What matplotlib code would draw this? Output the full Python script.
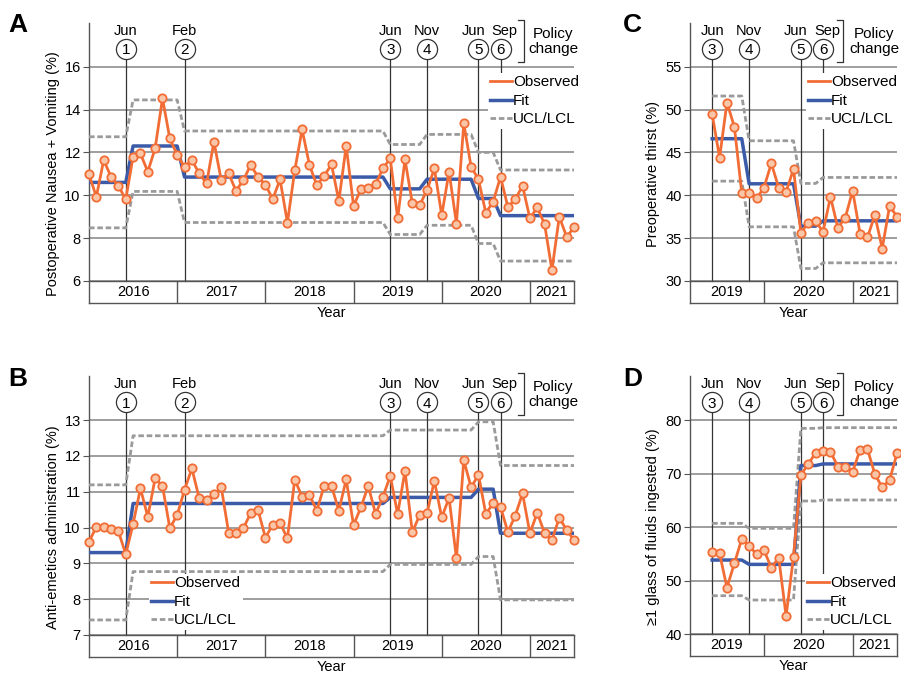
import matplotlib
matplotlib.use('Agg')
import matplotlib.pyplot as plt
import matplotlib.transforms as mtransforms
from matplotlib.lines import Line2D

plt.rcParams['font.family'] = ['Liberation Sans', 'DejaVu Sans']

W, H = 901, 674

# ---------------- data (month index: Jan 2016 = 0) ----------------
months_ab = list(range(0, 67))      # Jan 2016 .. Jul 2021
months_cd = list(range(41, 67))     # Jun 2019 .. Jul 2021

years = ['2016', '2017', '2018', '2019', '2020', '2021']
year_starts = [0, 12, 24, 36, 48, 60]

policy_nums = ['1', '2', '3', '4', '5', '6']
policy_months = [5, 13, 41, 46, 53, 56]
policy_labels = ['Jun', 'Feb', 'Jun', 'Nov', 'Jun', 'Sep']

ponv_obs = [10.97, 9.93, 11.64, 10.86, 10.44, 9.81, 11.8, 11.95, 11.1, 12.19, 14.52, 12.65,
            11.88, 11.33, 11.64, 11.02, 10.55, 12.5, 10.7, 11.02, 10.21, 10.7, 11.41, 10.86,
            10.5, 9.82, 10.74, 8.72, 11.16, 13.07, 11.41, 10.47, 10.9, 11.44, 9.74, 12.3,
            9.51, 10.27, 10.35, 10.52, 11.25, 11.72, 8.92, 11.67, 9.62, 9.54, 10.24, 11.25,
            9.07, 11.1, 8.68, 13.35, 11.33, 10.74, 9.18, 9.7, 10.86, 9.46, 9.81, 10.44,
            8.92, 9.43, 8.65, 6.51, 9.0, 8.06, 8.5]
ponv_fit = [10.6] * 6 + [12.3] * 7 + [10.85] * 28 + [10.3] * 5 + [10.75] * 7 + [9.85] * 3 + [9.05] * 11
ponv_ucl = [12.73] * 6 + [14.45] * 7 + [13.0] * 28 + [12.37] * 5 + [12.84] * 7 + [12.0] * 3 + [11.18] * 11
ponv_lcl = [8.48] * 6 + [10.18] * 7 + [8.73] * 28 + [8.17] * 5 + [8.6] * 7 + [7.75] * 3 + [6.93] * 11

anti_obs = [9.6, 10.02, 10.02, 9.95, 9.9, 9.25, 10.1, 11.09, 10.3, 11.37, 11.16, 9.98,
            10.35, 11.05, 11.65, 10.81, 10.77, 10.93, 11.12, 9.86, 9.86, 9.98, 10.4, 10.49,
            9.72, 10.07, 10.12, 9.7, 11.33, 10.86, 10.91, 10.47, 11.16, 11.16, 10.47, 11.34,
            10.07, 10.56, 11.16, 10.38, 10.86, 11.44, 10.37, 11.58, 9.87, 10.35, 10.4, 11.3,
            10.28, 10.83, 9.14, 11.88, 11.12, 11.47, 10.38, 10.67, 10.58, 9.87, 10.33, 10.95,
            9.84, 10.41, 9.84, 9.65, 10.27, 9.93, 9.65]
anti_fit = [9.3] * 6 + [10.67] * 35 + [10.84] * 12 + [11.07] * 3 + [9.84] * 11
anti_ucl = [11.19] * 6 + [12.56] * 35 + [12.72] * 12 + [12.95] * 3 + [11.73] * 11
anti_lcl = [7.42] * 6 + [8.77] * 35 + [8.97] * 12 + [9.19] * 3 + [7.98] * 11

thirst_obs = [49.47, 44.38, 50.8, 48.0, 40.29, 40.29, 39.63, 40.88, 43.72, 40.88, 40.41, 43.05,
              35.62, 36.79, 36.98, 35.74, 39.82, 36.2, 37.37, 40.53, 35.54, 35.08, 37.68, 33.79,
              38.77, 37.49]
thirst_fit = [46.6] * 5 + [41.34] * 7 + [36.4] * 3 + [37.02] * 11
thirst_ucl = [51.58] * 5 + [46.36] * 7 + [41.38] * 3 + [42.08] * 11
thirst_lcl = [41.65] * 5 + [36.32] * 7 + [31.46] * 3 + [32.12] * 11

fluid_obs = [55.42, 55.1, 48.7, 53.24, 57.78, 56.54, 54.92, 55.73, 52.43, 54.3, 43.41, 54.49,
             69.73, 71.79, 73.9, 74.21, 74.09, 71.29, 71.29, 70.35, 74.4, 74.59, 69.92, 67.43,
             68.8, 73.78]
fluid_fit = [53.86] * 5 + [53.05] * 7 + [71.5] * 3 + [71.8] * 11
fluid_ucl = [60.71] * 5 + [59.78] * 7 + [78.44] * 3 + [78.57] * 11
fluid_lcl = [47.2] * 5 + [46.4] * 7 + [64.88] * 3 + [65.07] * 11

# ---------------- style ----------------
C_OBS = '#F26D35'
C_OBS_FACE = '#F9C6A8'
C_FIT = '#3B5BA9'
C_LIM = '#9A9A9A'
C_GRID = '#8E8E8E'
C_LINE = '#333333'
C_SPINE = '#555555'

# horizontal nudges (px) of the month labels so that adjacent ones do not collide
label_nudge = [0, 0, 0, 0, -5, 4]

fig = plt.figure(figsize=(W / 100, H / 100), dpi=100)


def px_axes(x0, y0, x1, y1):
    return fig.add_axes([x0 / W, 1 - y1 / H, (x1 - x0) / W, (y1 - y0) / H])


def fig_line(xs, ys, **kw):
    fig.add_artist(Line2D([x / W for x in xs], [1 - y / H for y in ys],
                          transform=fig.transFigure, **kw))


def panel(letter, letter_xy, x0, x1, gtop, gbot, stop, xlim, ymin, ymax, yticks,
          months, obs, fit, ucl, lcl, ylabel, ylabel_x, pol_idx, bracket_x, text_x, leg_xy):
    ax = px_axes(x0, stop, x1, gbot)
    scale = (ymax - ymin) / (gbot - gtop)
    ax.set_ylim(ymin, ymax + (gtop - stop) * scale)
    ax.set_xlim(*xlim)
    for s in ['top', 'right', 'bottom']:
        ax.spines[s].set_visible(False)
    ax.spines['left'].set_color(C_SPINE)
    ax.spines['left'].set_linewidth(1.0)
    ax.set_yticks(yticks)
    ax.tick_params(axis='y', length=4, color=C_SPINE, labelsize=10.5, pad=2)
    ax.set_xticks([])
    for t in yticks:
        ax.axhline(t, color=C_GRID, lw=1.2, zorder=1)

    def frac(py):
        return (gbot - py) / (gbot - stop)

    trans = mtransforms.blended_transform_factory(ax.transData, ax.transAxes)
    circ_y = gtop - 17.7
    lab_y = gtop - 37.5
    for i in pol_idx:
        m = policy_months[i]
        ax.plot([m, m], [frac(circ_y + 10), 0], transform=trans, color=C_LINE, lw=0.9,
                zorder=2, clip_on=False)
        ax.plot([m], [frac(circ_y)], marker='o', ms=14.5, mfc='white', mec=C_LINE, mew=0.9,
                transform=trans, clip_on=False, zorder=6)
        ax.text(m, frac(circ_y), policy_nums[i], transform=trans, ha='center',
                va='center_baseline', fontsize=11, zorder=7)
        off = mtransforms.ScaledTranslation(label_nudge[i] / 100, 0, fig.dpi_scale_trans)
        ax.text(m, frac(lab_y), policy_labels[i], transform=trans + off, ha='center',
                va='center_baseline', fontsize=10.5, zorder=7)

    # bracket and "Policy change"
    by0, by1 = gtop - 46.7, gtop - 4.7
    fig_line([bracket_x - 6, bracket_x, bracket_x, bracket_x - 6], [by0, by0, by1, by1],
             color=C_LINE, lw=0.9)
    fig.text(text_x / W, 1 - (gtop - 25.5) / H, 'Policy\nchange', ha='center', va='center',
             fontsize=11, linespacing=1.1)

    ax.plot(months, ucl, color=C_LIM, lw=2, ls=(0, (2, 1)), zorder=3)
    ax.plot(months, lcl, color=C_LIM, lw=2, ls=(0, (2, 1)), zorder=3)
    ax.plot(months, fit, color=C_FIT, lw=2.5, zorder=4)
    ax.plot(months, obs, color=C_OBS, lw=2, marker='o', ms=6, mfc=C_OBS_FACE, mec=C_OBS,
            mew=1.3, zorder=5, clip_on=False)

    handles = [Line2D([], [], color=C_OBS, lw=2),
               Line2D([], [], color=C_FIT, lw=2.5),
               Line2D([], [], color=C_LIM, lw=2, ls=(0, (2, 1)))]
    lx = (leg_xy[0] - x0) / (x1 - x0)
    ly = frac(leg_xy[1])
    leg = ax.legend(handles, ['Observed', 'Fit', 'UCL/LCL'], loc='upper left',
                    bbox_to_anchor=(lx, ly), frameon=True, fancybox=False, framealpha=1,
                    facecolor='white', edgecolor='none', fontsize=11, handlelength=1.45,
                    handletextpad=0.05, labelspacing=0.3, borderpad=0.15, borderaxespad=0)
    leg.set_zorder(10)

    ax.set_ylabel(ylabel, fontsize=10.5)
    ax.yaxis.set_label_coords((ylabel_x - x0) / (x1 - x0), frac((gtop + gbot) / 2))

    # year table
    tab = px_axes(x0, gbot, x1, gbot + 22)
    tab.set_xlim(*xlim)
    tab.set_ylim(0, 1)
    tab.set_xticks([])
    tab.set_yticks([])
    for s in tab.spines.values():
        s.set_color(C_SPINE)
        s.set_linewidth(1.0)
    tab.patch.set_alpha(0)
    for yr, st in zip(years, year_starts):
        a = max(st, xlim[0])
        b = min(st + 12, xlim[1])
        if b <= a:
            continue
        if st > xlim[0]:
            tab.axvline(st, color=C_SPINE, lw=1.0)
        tab.text((a + b) / 2, 0.5, yr, ha='center', va='center', fontsize=10.5)
    tab.set_xlabel('Year', fontsize=10.5, labelpad=2)

    fig.text(letter_xy[0] / W, 1 - letter_xy[1] / H, letter, fontsize=19, fontweight='bold',
             ha='left', va='baseline')
    return ax


panel('A', (8, 32), 89, 574, 66.7, 281, 23, (0, 66), 6, 16, [6, 8, 10, 12, 14, 16],
      months_ab, ponv_obs, ponv_fit, ponv_ucl, ponv_lcl,
      'Postoperative Nausea + Vomiting (%)', 60, [0, 1, 2, 3, 4, 5], 524, 553, (488, 73))

panel('B', (8, 386), 89, 574, 420, 635, 376, (0, 66), 7, 13, [7, 8, 9, 10, 11, 12, 13],
      months_ab, anti_obs, anti_fit, anti_ucl, anti_lcl,
      'Anti-emetics administration (%)', 60, [0, 1, 2, 3, 4, 5], 524, 553, (149, 574))

panel('C', (623, 32), 690, 897, 66.7, 281, 23, (38, 66), 30, 55, [30, 35, 40, 45, 50, 55],
      months_cd, thirst_obs, thirst_fit, thirst_ucl, thirst_lcl,
      'Preoperative thirst (%)', 660, [2, 3, 4, 5], 843, 874, (806, 73))

panel('D', (623, 386), 690, 897, 420, 634.3, 376, (38, 66), 40, 80, [40, 50, 60, 70, 80],
      months_cd, fluid_obs, fluid_fit, fluid_ucl, fluid_lcl,
      '\u22651 glass of fluids ingested (%)', 660, [2, 3, 4, 5], 843, 874, (805, 574))

fig.savefig('out.png', dpi=100)
